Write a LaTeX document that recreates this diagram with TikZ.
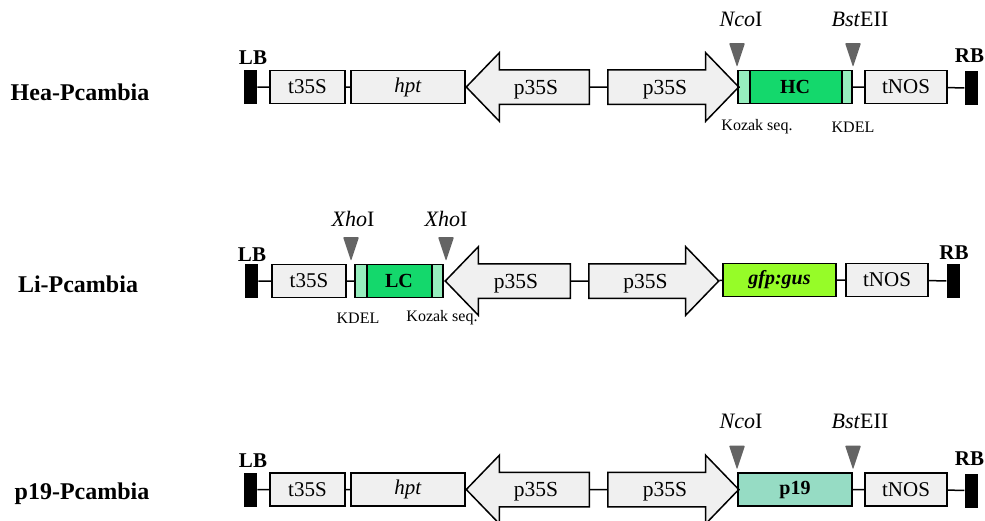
\documentclass[tikz,border=0pt]{standalone}
\usepackage{fontspec}
\setmainfont{Liberation Serif}
\usepackage{xcolor}
\usepackage{tikz}
\usetikzlibrary{shapes.arrows,positioning}

\definecolor{boxgray}{RGB}{240,240,240}
\definecolor{hcgreen}{RGB}{20,216,108}
\definecolor{kozak}{RGB}{150,238,190}
\definecolor{gfpgreen}{RGB}{150,252,40}
\definecolor{pteal}{RGB}{150,220,196}
\definecolor{sitegray}{RGB}{100,100,100}
\newcommand{\fsz}[1]{\fontsize{#1}{#1}\selectfont}

\begin{document}
\begin{tikzpicture}[x=1pt, y=-1pt, line width=1.5pt,
  every node/.style={inner sep=0pt},
  part/.style={draw, fill=boxgray, minimum height=33pt, font=\fsz{21}},
  seg/.style={draw, fill=kozak, minimum height=33pt},
  bar/.style={fill=black, minimum width=13pt, minimum height=34pt},
  prom/.style={draw, fill=boxgray, single arrow, single arrow head extend=17pt,
    single arrow head indent=0pt, single arrow tip angle=92,
    text height=23.5pt, text depth=9.5pt, font=\fsz{21.5}},
  site/.style={fill=sitegray, rounded corners=1pt},
  tag/.style={font=\fsz{21}\bfseries},
  rowname/.style={font=\fsz{24}\bfseries},
  enz/.style={font=\fsz{22}},
  note/.style={font=\fsz{16}}]
\clip (0,0) rectangle (985,520);

% rows with hpt selection cassette
\foreach \r/\y in {1/87,3/489.5} {
  \node[bar] (lb\r) at (250,\y) {};
  \node[tag] (lbt\r) at (253,\y-29) {LB};
  \node[part, minimum width=75pt] (t35s\r) at (307.5,\y) {t35S};
  \node[part, minimum width=114pt] (hpt\r) at (408,\y) {\textit{hpt}};
  \node[prom, shape border rotate=180, minimum height=123pt, anchor=tail] (lp\r) at (590,\y) {p35S};
  \node[prom, minimum height=131pt, anchor=tail] (rp\r) at (607,\y) {p35S};
  \node[part, minimum width=82pt] (tnos\r) at (906,\y) {tNOS};
  \node[bar] (rb\r) at (971.5,\y+1) {};
  \node[tag] (rbt\r) at (969.5,\y-31) {RB};
  \node[enz] (nco\r) at (741,\y-68) {\textit{Nco}I};
  \node[enz] (bst\r) at (860,\y-68) {\textit{Bst}EII};
  \foreach \x in {737,853}
    \fill[site] (\x-8,\y-44) -- (\x+8,\y-44) -- (\x,\y-20) -- cycle;
}

% Hea-Pcambia
\node[rowname] (hea) at (80,92) {Hea-Pcambia};
\node[part, fill=hcgreen, minimum width=114pt, font=\fsz{20}\bfseries] (hc1) at (795,87) {HC};
\node[seg, minimum width=12pt, anchor=west] (hck1) at (hc1.west) {};
\node[seg, minimum width=10pt, anchor=east] (hcd1) at (hc1.east) {};
\node[note] (koz1) at (757,127) {Kozak seq.};
\node[note] (kdel1) at (853,127) {KDEL};
\draw (lb1) -- (t35s1) -- (hpt1) -- (lp1) -- (rp1) -- (hc1) -- (tnos1) -- (rb1);

% Li-Pcambia
\node[rowname] (li) at (78,284) {Li-Pcambia};
\node[bar] (lb2) at (251,281) {};
\node[tag] (lbt2) at (252,255) {LB};
\node[part, minimum width=74pt] (t35s2) at (309,281) {t35S};
\node[part, fill=hcgreen, minimum width=88pt, font=\fsz{20}\bfseries] (lc2) at (399,281) {LC};
\node[seg, minimum width=12pt, anchor=west] (lcd2) at (lc2.west) {};
\node[seg, minimum width=11pt, anchor=east] (lck2) at (lc2.east) {};
\node[prom, shape border rotate=180, minimum height=125pt, anchor=tail] (lp2) at (571,281) {p35S};
\node[prom, minimum height=130pt, anchor=tail] (rp2) at (588,281) {p35S};
\node[part, fill=gfpgreen, minimum width=113pt, font=\fsz{20}\bfseries\itshape] (gfp2) at (779.5,280) {gfp:gus};
\node[part, minimum width=82pt] (tnos2) at (887,280) {tNOS};
\node[bar] (rb2) at (953.5,281) {};
\node[tag] (rbt2) at (954,253) {RB};
\node[enz] (xho2a) at (353,219) {\textit{Xho}I};
\node[enz] (xho2b) at (446,219) {\textit{Xho}I};
\foreach \x in {351,446}
  \fill[site] (\x-8,237) -- (\x+8,237) -- (\x,261) -- cycle;
\node[note] (kdel2) at (358,318) {KDEL};
\node[note] (koz2) at (442,318) {Kozak seq.};
\draw (lb2) -- (t35s2) -- (lc2) -- (lp2) -- (rp2) -- (gfp2) -- (tnos2) -- (rb2);

% p19-Pcambia
\node[rowname] (p19n) at (82,494) {p19-Pcambia};
\node[part, fill=pteal, minimum width=114pt, font=\fsz{20}\bfseries] (p193) at (795,489.5) {p19};
\draw (lb3) -- (t35s3) -- (hpt3) -- (lp3) -- (rp3) -- (p193) -- (tnos3) -- (rb3);
\end{tikzpicture}
\end{document}
